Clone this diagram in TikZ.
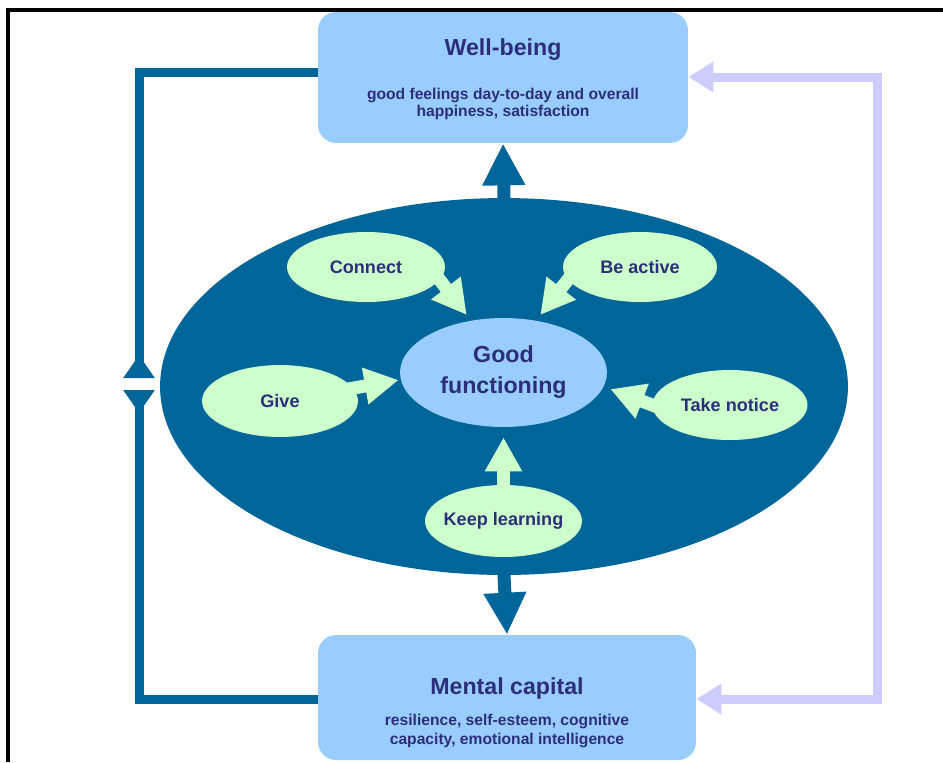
\documentclass[tikz,border=0pt]{standalone}
\usepackage{fontspec}
\setmainfont{Liberation Sans}
\usetikzlibrary{shapes.geometric,arrows.meta}
\definecolor{deepblue}{RGB}{0,102,153}
\definecolor{boxblue}{RGB}{153,204,255}
\definecolor{mint}{RGB}{204,255,204}
\definecolor{lavender}{RGB}{204,204,255}
\definecolor{navy}{RGB}{44,46,122}
\begin{document}
\begin{tikzpicture}[x=0.02cm,y=-0.02cm,
	panel/.style={rectangle,rounded corners=0.36cm,fill=boxblue,inner sep=0},
	headtext/.style={text=navy,font=\fontsize{13.2}{16}\selectfont\bfseries},
	subtext/.style={text=navy,align=center,font=\fontsize{8.9}{#1}\selectfont\bfseries},
	petal/.style={ellipse,fill=mint,inner sep=0,inner xsep=-6pt,text=navy,
		font=\fontsize{10.3}{12}\selectfont\bfseries},
	petalarrow/.style={draw=mint,line width=0.26cm,
		-{Triangle[width=0.7cm,length=0.68cm]},shorten <=-8pt},
	bigarrow/.style={draw=deepblue,line width=0.26cm,
		-{Triangle[width=0.8cm,length=0.84cm]},shorten <=-4pt},
	loopline/.style={draw=deepblue,line width=0.18cm,
		-{Triangle[reversed,width=0.6cm,length=0.46cm]}},
	feedline/.style={draw=lavender,line width=0.18cm,
		{Triangle[width=0.58cm,length=0.5cm]}-{Triangle[width=0.58cm,length=0.5cm]}}]
\useasboundingbox (0,0) rectangle (943,762);
% frame
\draw[line width=0.07cm] (8,762) -- (8,10) -- (943,10);

% boxes
\node[panel,minimum width=7.4cm,minimum height=2.62cm] (wb) at (503,77.5) {};
\node[headtext] (wbtitle) at (503,50) {Well-being};
\node[subtext=9.6] (wbsub) at (503,104) {good feelings day-to-day and overall\\happiness, satisfaction};

\node[panel,minimum width=7.56cm,minimum height=2.5cm] (mc) at (507,697.5) {};
\node[headtext] (mctitle) at (507,688) {Mental capital};
\node[subtext=11.3] (mcsub) at (507,731) {resilience, self-esteem, cognitive\\capacity, emotional intelligence};

% centre
\node[ellipse,fill=deepblue,inner sep=0,minimum width=13.76cm,minimum height=7.54cm] (bg) at (504,386.5) {};
\node[ellipse,fill=boxblue,inner sep=0,minimum width=4.14cm,minimum height=2.18cm,
	text=navy,align=center,font=\fontsize{13.2}{17.6}\selectfont\bfseries] (gf) at (503.5,372.5) {Good\\functioning};
\node[petal,minimum width=3.16cm,minimum height=1.4cm] (cn) at (366,267) {Connect};
\node[petal,minimum width=3.08cm,minimum height=1.4cm] (ba) at (640,267) {Be active};
\node[petal,minimum width=3.12cm,minimum height=1.44cm] (gv) at (280,401) {Give};
\node[petal,minimum width=3.1cm,minimum height=1.4cm] (tn) at (730,405) {Take notice};
\node[petal,minimum width=3.14cm,minimum height=1.44cm] (kl) at (503.5,521) {Keep learning};

\draw[petalarrow,shorten >=0.14cm] (cn.-10) -- (gf.122);
\draw[petalarrow,shorten >=0.14cm] (ba.190) -- (gf.58);
\draw[petalarrow,shorten >=0.04cm] (gv.10) -- (gf.184);
\draw[petalarrow,shorten >=0.14cm] (tn.180) -- (gf.-8);
\draw[petalarrow,shorten >=0.2cm] (kl.north) -- (gf.south);

% to and from the boxes
\draw[bigarrow] (bg.north) -- (wb.south);
\draw[bigarrow] (bg.south) -- (mc.north);

\coordinate (lt) at (139,72);
\coordinate (lu) at (139,378);
\coordinate (lb) at (139,699);
\coordinate (ld) at (139,390);
\draw[loopline] (wb.west |- lt) -- (lt) -- (lu);
\draw[loopline] (mc.west |- lb) -- (lb) -- (ld);

\coordinate (rt) at (877,77);
\coordinate (rb) at (877,699);
\draw[feedline] (wb.east |- rt) -- (rt) -- (rb) -- (mc.east |- rb);
\end{tikzpicture}
\end{document}
